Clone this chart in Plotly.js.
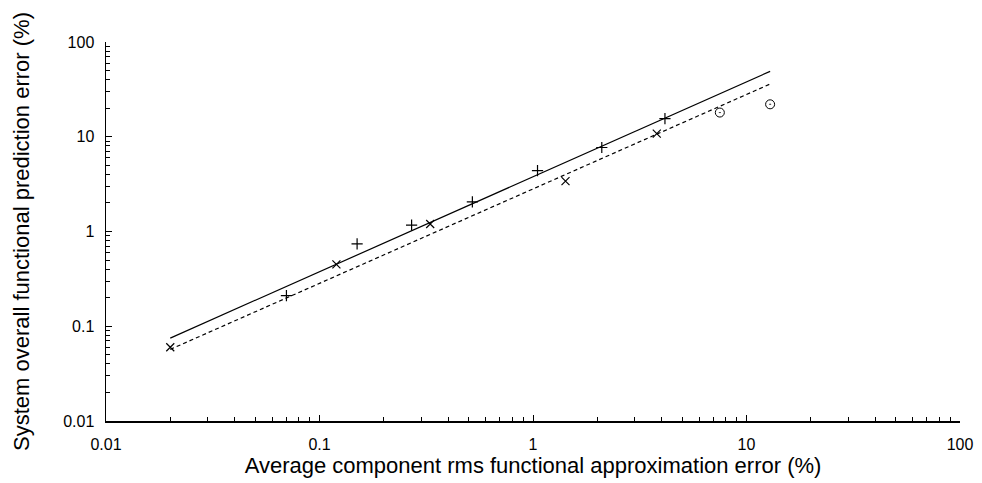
<!DOCTYPE html>
<html>
<head>
<meta charset="utf-8">
<script src="https://cdn.plot.ly/plotly-3.0.1.min.js"></script>
<style>html,body{margin:0;padding:0;background:#fff;}#chart{width:982px;height:483px;}</style>
</head>
<body>
<div id="chart"></div>
<script>
// Data
const plusX = [0.07, 0.15, 0.27, 0.52, 1.05, 2.1, 4.15];
const plusY = [0.21, 0.74, 1.17, 2.05, 4.4, 7.7, 15.5];
const crossX = [0.02, 0.12, 0.33, 1.42, 3.8];
const crossY = [0.06, 0.45, 1.2, 3.4, 10.8];
const circleX = [7.5, 12.9];
const circleY = [18.0, 22.0];
const fitX = [0.02, 12.9];
const solidFitY = [0.075, 49];
const dashedFitY = [0.057, 36];
const tickVals = [0.01, 0.1, 1, 10, 100];
const tickText = ['0.01', '0.1', '1', '10', '100'];

// minor tick positions (2..9 in each decade)
const minorVals = [];
for (let d = -2; d < 2; d++) {
  for (let m = 2; m <= 9; m++) minorVals.push(m * Math.pow(10, d));
}

const font = 'Liberation Sans, Arial, sans-serif';

const traces = [
  {x: fitX, y: solidFitY, mode: 'lines', line: {color: '#000', width: 1.2, dash: 'solid'}, hoverinfo: 'skip'},
  {x: fitX, y: dashedFitY, mode: 'lines', line: {color: '#000', width: 1.2, dash: '4px,3px'}, hoverinfo: 'skip'},
  {x: plusX, y: plusY, mode: 'markers', marker: {symbol: 'cross-thin', size: 8, line: {color: '#000', width: 1.2}}},
  {x: crossX, y: crossY, mode: 'markers', marker: {symbol: 'x-thin', size: 8, line: {color: '#000', width: 1.2}}},
  {x: circleX, y: circleY, mode: 'markers', marker: {symbol: 'circle-open-dot', size: 9, color: '#000', line: {color: '#000', width: 1}}}
];

const axisCommon = {
  type: 'log',
  tickmode: 'array',
  tickvals: tickVals,
  ticktext: tickText,
  ticks: 'inside',
  ticklen: 6,
  tickwidth: 1,
  tickcolor: '#000',
  showline: true,
  linecolor: '#000',
  linewidth: 1.5,
  showgrid: false,
  zeroline: false,
  tickfont: {family: font, size: 16, color: '#000'},
  minor: {tickmode: 'array', tickvals: minorVals, ticks: 'inside', ticklen: 4, tickwidth: 1, tickcolor: '#000', showgrid: false},
  mirror: false
};

const layout = {
  width: 982,
  height: 483,
  margin: {l: 106, r: 22, t: 42, b: 62},
  paper_bgcolor: '#fff',
  plot_bgcolor: '#fff',
  showlegend: false,
  xaxis: Object.assign({}, axisCommon, {
    range: [-2, 2],
    ticklabelstandoff: 8,
    title: {text: 'Average component rms functional approximation error (%)', font: {family: font, size: 22, color: '#000'}, standoff: 3}
  }),
  yaxis: Object.assign({}, axisCommon, {
    range: [-2, 2],
    ticklabelstandoff: 7,
    title: {text: 'System overall functional prediction error (%)', font: {family: font, size: 22, color: '#000'}, standoff: 27}
  })
};

Plotly.newPlot('chart', traces, layout, {staticPlot: true, displayModeBar: false});
</script>
</body>
</html>
